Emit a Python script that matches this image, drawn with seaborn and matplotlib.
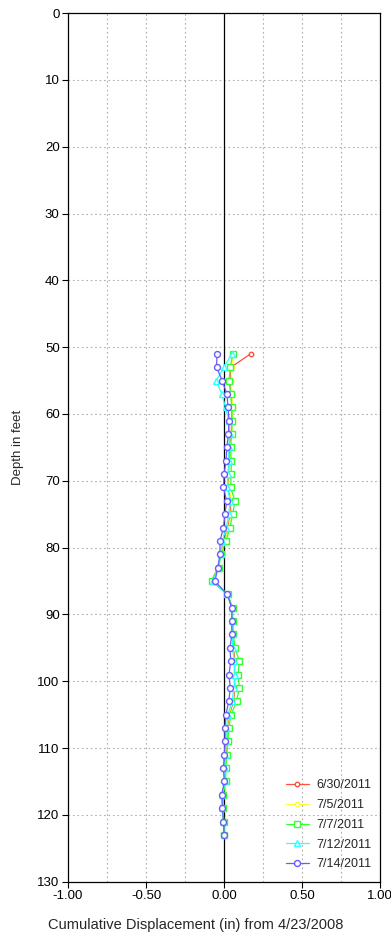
import numpy as np
import pandas as pd
import matplotlib
matplotlib.use("Agg")
import matplotlib.pyplot as plt
import seaborn as sns

depth = [51, 53, 55, 57, 59, 61, 63, 65, 67, 69, 71, 73, 75, 77, 79, 81, 83, 85, 87,
         89, 91, 93, 95, 97, 99, 101, 103, 105, 107, 109, 111, 113, 115, 117, 119, 121, 123]

d_0630 = [0.17, 0.045, 0.04, 0.048, 0.05, 0.05, 0.045, 0.035, 0.035, 0.03, 0.025, 0.045,
          0.04, 0.025, 0.0, -0.02, -0.04, -0.08, 0.022, 0.05, 0.052, 0.055, 0.06, 0.07,
          0.065, 0.07, 0.06, 0.035, 0.02, 0.018, 0.012, 0.008, 0.006, -0.008, -0.01, -0.004, 0.0]
d_0705 = [0.06, 0.05, 0.045, 0.05, 0.055, 0.055, 0.05, 0.04, 0.04, 0.035, 0.03, 0.05,
          0.045, 0.03, 0.005, -0.02, -0.04, -0.075, 0.022, 0.05, 0.052, 0.055, 0.055, 0.065,
          0.06, 0.065, 0.055, 0.03, 0.018, 0.015, 0.01, 0.005, 0.004, -0.01, -0.012, -0.005, 0.0]
d_0707 = [0.056, 0.04, 0.032, 0.042, 0.05, 0.052, 0.048, 0.042, 0.046, 0.046, 0.042, 0.07,
          0.055, 0.038, 0.012, -0.018, -0.035, -0.08, 0.024, 0.055, 0.056, 0.06, 0.07, 0.098,
          0.09, 0.098, 0.08, 0.045, 0.03, 0.025, 0.018, 0.012, 0.01, -0.005, -0.006, -0.002, 0.0]
d_0712 = [0.05, 0.0, -0.05, -0.015, 0.01, 0.03, 0.035, 0.03, 0.03, 0.025, 0.02, 0.04,
          0.03, 0.015, -0.01, -0.022, -0.038, -0.07, 0.022, 0.05, 0.052, 0.055, 0.055, 0.065,
          0.07, 0.065, 0.05, 0.025, 0.015, 0.012, 0.008, 0.004, 0.004, -0.01, -0.01, -0.004, 0.0]
d_0714 = [-0.045, -0.048, -0.012, 0.018, 0.026, 0.032, 0.028, 0.018, 0.013, 0.0, -0.004, 0.017,
          0.006, -0.004, -0.026, -0.026, -0.04, -0.058, 0.02, 0.05, 0.05, 0.05, 0.038, 0.043,
          0.032, 0.04, 0.03, 0.012, 0.006, 0.006, 0.002, -0.004, 0.002, -0.015, -0.01, -0.004, 0.0]

dates = ["6/30/2011", "7/5/2011", "7/7/2011", "7/12/2011", "7/14/2011"]
series = [d_0630, d_0705, d_0707, d_0712, d_0714]
colors = ["#FF4F3A", "#FFFF2E", "#33FF33", "#2EFFFF", "#6A5CFF"]
markers = ["o", "o", "s", "^", "o"]
msizes = [3.2, 3.2, 4.0, 4.0, 4.3]

x_ticks = [-1.0, -0.5, 0.0, 0.5, 1.0]
y_ticks = list(range(0, 131, 10))

sns.set_style("white")
plt.rcParams["font.family"] = ["Liberation Sans", "DejaVu Sans"]

rows = []
for dt, vals in zip(dates, series):
    for dp, v in zip(depth, vals):
        rows.append({"date": dt, "depth": dp, "disp": v})
df = pd.DataFrame(rows)

fig = plt.figure(figsize=(3.91, 9.36), dpi=100)
ax = fig.add_axes([0.174, 0.058, 0.798, 0.928])

# grid
for gx in [-0.75, -0.5, -0.25, 0.25, 0.5, 0.75]:
    ax.axvline(gx, color="#b0b0b0", lw=0.8, ls=(0, (1.5, 2.5)), zorder=0)
for gy in y_ticks[1:-1]:
    ax.axhline(gy, color="#b0b0b0", lw=0.8, ls=(0, (1.5, 2.5)), zorder=0)
ax.axvline(0, color="black", lw=0.9, zorder=1)

for dt, c, m, ms in zip(dates, colors, markers, msizes):
    sub = df[df["date"] == dt]
    sns.lineplot(data=sub, x="disp", y="depth", sort=False, orient="y", ax=ax,
                 color=c, marker=m, markersize=ms, markerfacecolor="white",
                 markeredgecolor=c, markeredgewidth=1.0, lw=0.9, label=dt, zorder=3)

ax.set_xlim(-1, 1)
ax.set_ylim(130, 0)
ax.set_xticks(x_ticks)
ax.set_xticklabels([f"{t:.2f}" for t in x_ticks])
ax.set_yticks(y_ticks)
ax.tick_params(axis="both", direction="out", length=4, width=0.8, labelsize=9.5,
               colors="black", bottom=True, left=True, pad=2)
for s in ax.spines.values():
    s.set_color("black")
    s.set_linewidth(0.9)

ax.set_xlabel("")
fig.text(196 / 391, 1 - 925 / 936, "Cumulative Displacement (in) from 4/23/2008",
         fontsize=10.5, ha="center", va="center")
ax.set_ylabel("Depth in feet", fontsize=9.5, labelpad=10)

leg = ax.legend(loc="lower right", bbox_to_anchor=(1.01, 0.0), frameon=False, fontsize=9,
                handlelength=1.9, labelspacing=0.62, handletextpad=0.6, borderaxespad=0.5)

fig.savefig("out.png", dpi=100, facecolor="white")
